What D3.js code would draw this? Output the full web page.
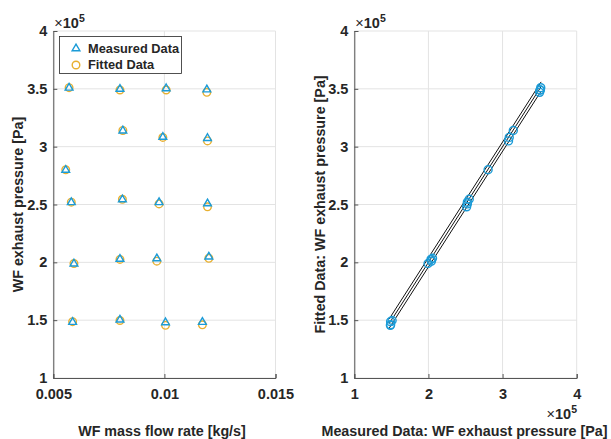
<!DOCTYPE html>
<html>
<head>
<meta charset="utf-8">
<script src="https://cdn.jsdelivr.net/npm/d3@7"></script>
<style>
  body { margin: 0; background: #fff; }
  text { font-family: "Liberation Sans", Arial, sans-serif; font-weight: bold; fill: #262626; }
</style>
</head>
<body>
<svg id="chart" width="611" height="439"></svg>
<script>
// data (pressures in units of 1e5 Pa)
var massFlow = [0.00571, 0.0080, 0.01008, 0.01191, 0.00813, 0.00993, 0.01194, 0.00556, 0.00581, 0.00811,
                0.00976, 0.01194, 0.00593, 0.0080, 0.00966, 0.0120, 0.00587, 0.0080, 0.01005, 0.01171];
var measured = [3.515, 3.505, 3.51, 3.50, 3.145, 3.09, 3.08, 2.805, 2.525, 2.55,
                2.525, 2.515, 1.995, 2.035, 2.04, 2.055, 1.49, 1.51, 1.487, 1.49];
var fitted   = [3.51, 3.49, 3.49, 3.47, 3.14, 3.08, 3.05, 2.80, 2.52, 2.545,
                2.505, 2.48, 1.99, 2.025, 2.01, 2.035, 1.487, 1.497, 1.455, 1.46];
var flowTicks = [0.005, 0.01, 0.015];
var pressTicks = [1, 1.5, 2, 2.5, 3, 3.5, 4];
var pressTicksX = [1, 2, 3, 4];
var fitLineRange = [1.47, 3.52];
var fitLineOffsets = [-0.04, 0, 0.04];
var legendLabels = ["Measured Data", "Fitted Data"];

var blue = "#1b9bd7", gold = "#e8b030";
var svg = d3.select("#chart");

function exponent(g, x, y, anchor) {
    var e = g.append("text").attr("x", x).attr("y", y).attr("text-anchor", anchor).attr("font-size", 14.5);
    e.append("tspan").attr("font-weight", "normal").text("\u00d7");
    e.append("tspan").text("10");
    e.append("tspan").attr("dy", -6.5).attr("font-size", 10.5).text("5");
}

function panel(x0, x1, xDomain, xTicks) {
    var x = d3.scaleLinear().domain(xDomain).range([x0, x1]);
    var y = d3.scaleLinear().domain([1, 4]).range([378, 31]);
    var g = svg.append("g");

    // grid
    g.selectAll(".gx").data(xTicks).enter().append("line")
        .attr("x1", function(d){ return x(d); }).attr("x2", function(d){ return x(d); })
        .attr("y1", y(1)).attr("y2", y(4))
        .attr("stroke", "#e3e3e3").attr("stroke-width", 1);
    g.selectAll(".gy").data(pressTicks).enter().append("line")
        .attr("x1", x0).attr("x2", x1)
        .attr("y1", function(d){ return y(d); }).attr("y2", function(d){ return y(d); })
        .attr("stroke", "#e3e3e3").attr("stroke-width", 1);

    // axes
    var xAxis = d3.axisBottom(x).tickValues(xTicks).tickSize(-4).tickPadding(11).tickFormat(d3.format("~g"));
    var yAxis = d3.axisLeft(y).tickValues(pressTicks).tickSize(-4).tickPadding(6).tickFormat(d3.format("~g"));
    var ax = g.append("g").attr("transform", "translate(0," + y(1) + ")").call(xAxis);
    var ay = g.append("g").attr("transform", "translate(" + x0 + ",0)").call(yAxis);
    [ax, ay].forEach(function(a) {
        a.select(".domain").attr("stroke", "#555");
        a.selectAll(".tick line").attr("stroke", "#555");
        a.selectAll("text").attr("font-size", 14.5).attr("fill", "#262626");
    });

    exponent(g, x0 + 1, 28, "start");
    return {x: x, y: y, g: g};
}

// left panel
var L = panel(53.3, 275.5, [0.005, 0.015], flowTicks);
L.g.selectAll(".fit").data(fitted).enter().append("circle")
    .attr("cx", function(d, i){ return L.x(massFlow[i]); })
    .attr("cy", function(d){ return L.y(d); })
    .attr("r", 3.8).attr("fill", "none").attr("stroke", gold).attr("stroke-width", 1.4);
L.g.selectAll(".meas").data(measured).enter().append("path")
    .attr("d", d3.symbol(d3.symbolTriangle, 26))
    .attr("transform", function(d, i){ return "translate(" + L.x(massFlow[i]) + "," + (L.y(d) + 0.8) + ")"; })
    .attr("fill", "none").attr("stroke", blue).attr("stroke-width", 1.4);

L.g.append("text").attr("x", 162).attr("y", 436).attr("text-anchor", "middle")
    .attr("font-size", 14.3).text("WF mass flow rate [kg/s]");
L.g.append("text").attr("transform", "translate(23,204.5) rotate(-90)").attr("text-anchor", "middle")
    .attr("font-size", 14.3).text("WF exhaust pressure [Pa]");

// legend
var leg = L.g.append("g");
leg.append("rect").attr("x", 59.5).attr("y", 36.5).attr("width", 122).attr("height", 37)
    .attr("fill", "#fff").attr("stroke", "#262626").attr("stroke-width", 0.8);
leg.append("path").attr("d", d3.symbol(d3.symbolTriangle, 26))
    .attr("transform", "translate(76,48.5)").attr("fill", "none").attr("stroke", blue).attr("stroke-width", 1.4);
leg.append("circle").attr("cx", 76).attr("cy", 65).attr("r", 3.8)
    .attr("fill", "none").attr("stroke", gold).attr("stroke-width", 1.4);
leg.selectAll(".lt").data(legendLabels).enter().append("text")
    .attr("x", 88).attr("y", function(d, i){ return 52.5 + i * 16.5; })
    .attr("font-size", 12.8).attr("fill", "#000").text(function(d){ return d; });

// right panel
var R = panel(354.3, 576.7, [1, 4], pressTicksX);
R.g.selectAll(".fl").data(fitLineOffsets).enter().append("line")
    .attr("x1", R.x(fitLineRange[0])).attr("x2", R.x(fitLineRange[1]))
    .attr("y1", function(d){ return R.y(fitLineRange[0] + d); })
    .attr("y2", function(d){ return R.y(fitLineRange[1] + d); })
    .attr("stroke", "#111").attr("stroke-width", 1);
R.g.selectAll(".pt").data(measured).enter().append("circle")
    .attr("cx", function(d){ return R.x(d); })
    .attr("cy", function(d, i){ return R.y(fitted[i]); })
    .attr("r", 4).attr("fill", "none").attr("stroke", blue).attr("stroke-width", 1.4);

R.g.append("text").attr("x", 464.5).attr("y", 436).attr("text-anchor", "middle")
    .attr("font-size", 14.3).text("Measured Data: WF exhaust pressure [Pa]");
R.g.append("text").attr("transform", "translate(325,204.5) rotate(-90)").attr("text-anchor", "middle")
    .attr("font-size", 14.3).text("Fitted Data: WF exhaust pressure [Pa]");
exponent(R.g, 577, 419, "end");
</script>
</body>
</html>
